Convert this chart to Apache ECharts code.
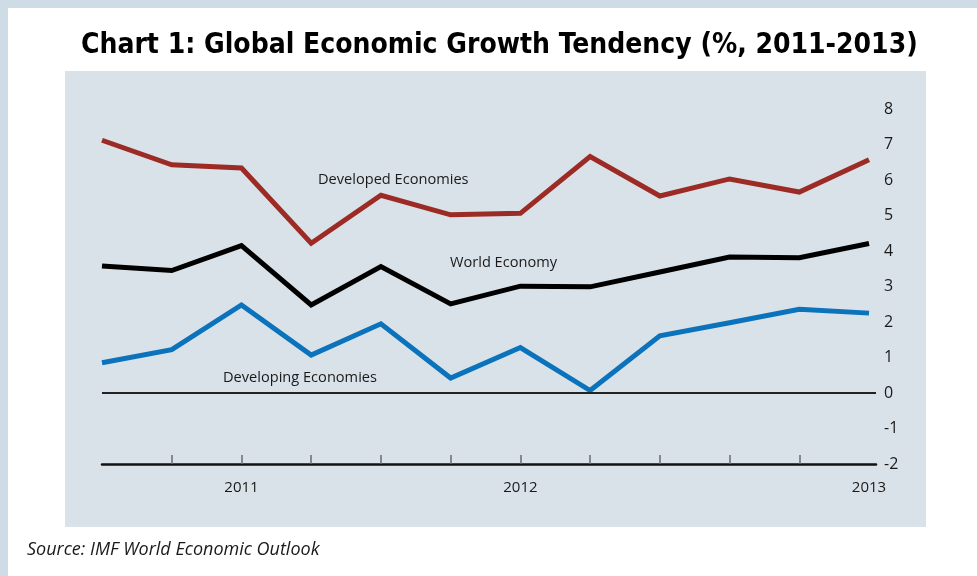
<!DOCTYPE html>
<html>
<head>
<meta charset="utf-8">
<script src="https://cdn.jsdelivr.net/npm/echarts@6/dist/echarts.min.js"></script>
<style>
  html, body { margin: 0; padding: 0; background: #ffffff; }
  #chart { width: 977px; height: 576px; }
</style>
</head>
<body>
<div id="chart"></div>
<script>
// Period index along the horizontal axis (12 observations, 2011-2013)
const periods = [0, 1, 2, 3, 4, 5, 6, 7, 8, 9, 10, 11];

// Growth rates, %
const developed = [7.12, 6.43, 6.34, 4.22, 5.57, 5.02, 5.06, 6.66, 5.55, 6.03, 5.66, 6.57];
const world     = [3.58, 3.45, 4.15, 2.48, 3.56, 2.51, 3.01, 2.99, 3.41, 3.83, 3.81, 4.21];
const developing= [0.85, 1.22, 2.48, 1.07, 1.95, 0.42, 1.28, 0.07, 1.61, 1.98, 2.36, 2.25];

// Year labels and where they sit on the period axis
const yearLabels = ['2011', '2012', '2013'];
const yearLabelAt = [2, 6, 11];
const tickAt = [1, 2, 3, 4, 5, 6, 7, 8, 9, 10];

const seriesNames = ['Developed Economies', 'World Economy', 'Developing Economies'];

const pairs = (vals) => periods.map((p, i) => [p, vals[i]]);

const chart = echarts.init(document.getElementById('chart'));

const labelFont = "'Open Sans', 'Noto Sans', sans-serif";

chart.setOption({
  backgroundColor: '#ffffff',
  animation: false,
  title: {
    text: 'Chart 1: Global Economic Growth Tendency (%, 2011-2013)',
    left: 76,
    top: 27,
    textStyle: {
      fontFamily: "'DejaVu Sans Condensed', sans-serif",
      fontWeight: 'bold',
      fontSize: 28,
      color: '#000000'
    }
  },
  graphic: [
    { type: 'rect', z: -10, shape: { x: 0, y: 0, width: 977, height: 8 }, style: { fill: '#cddce5' } },
    { type: 'rect', z: -10, shape: { x: 0, y: 0, width: 8, height: 576 }, style: { fill: '#cddce5' } },
    { type: 'rect', z: -10, shape: { x: 65, y: 71, width: 861, height: 456 }, style: { fill: '#d9e2e8' } },
    { type: 'text', left: 318, top: 172, style: { text: seriesNames[0], font: '14.6px ' + labelFont, fill: '#1a1a1a' } },
    { type: 'text', left: 450, top: 255, style: { text: seriesNames[1], font: '14.6px ' + labelFont, fill: '#1a1a1a' } },
    { type: 'text', left: 223, top: 370, style: { text: seriesNames[2], font: '14.6px ' + labelFont, fill: '#1a1a1a' } },
    { type: 'text', left: 27, top: 541, style: { text: 'Source: IMF World Economic Outlook', font: 'italic 18px ' + labelFont, fill: '#1a1a1a' } }
  ],
  grid: { left: 102, right: 101, top: 109, bottom: 112, containLabel: false },
  xAxis: {
    type: 'value',
    min: 0,
    max: 11.1,
    interval: 1,
    splitLine: { show: false },
    axisLine: { onZero: false, lineStyle: { color: '#111111', width: 2.5 } },
    axisTick: {
      inside: true,
      length: 9,
      customValues: tickAt,
      lineStyle: { color: '#6b6b6b', width: 1.5 }
    },
    axisLabel: {
      customValues: yearLabelAt,
      margin: 16,
      fontFamily: labelFont,
      fontSize: 15,
      color: '#1a1a1a',
      formatter: (v) => {
        const k = yearLabelAt.indexOf(Math.round(v));
        return k >= 0 ? yearLabels[k] : '';
      }
    }
  },
  yAxis: {
    type: 'value',
    position: 'right',
    min: -2,
    max: 8,
    interval: 1,
    splitLine: { show: false },
    axisLine: { show: false },
    axisTick: { show: false },
    axisLabel: {
      margin: 8,
      align: 'left',
      fontFamily: labelFont,
      fontSize: 16,
      color: '#1a1a1a'
    }
  },
  series: [
    {
      name: seriesNames[0],
      type: 'line',
      data: pairs(developed),
      symbol: 'none',
      lineStyle: { color: '#9d2b25', width: 5, join: 'miter' },
      markLine: {
        silent: true,
        symbol: 'none',
        label: { show: false },
        lineStyle: { color: '#222222', width: 2, type: 'solid' },
        data: [{ yAxis: 0 }]
      },
      z: 3
    },
    {
      name: seriesNames[1],
      type: 'line',
      data: pairs(world),
      symbol: 'none',
      lineStyle: { color: '#000000', width: 5, join: 'miter' },
      z: 3
    },
    {
      name: seriesNames[2],
      type: 'line',
      data: pairs(developing),
      symbol: 'none',
      lineStyle: { color: '#0b72bc', width: 5, join: 'miter' },
      z: 3
    }
  ]
});
</script>
</body>
</html>
